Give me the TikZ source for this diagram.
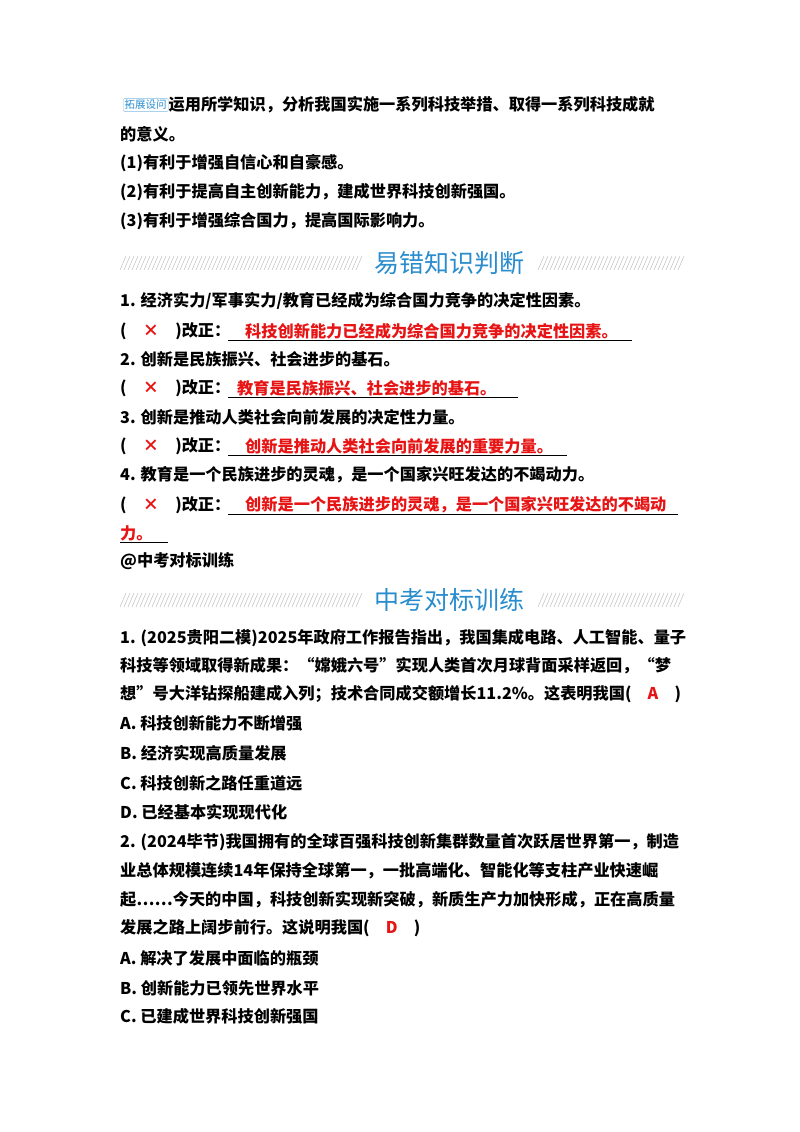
\documentclass[tikz,border=0pt]{standalone}
\usepackage{fontspec}
\setmainfont{Liberation Serif}
\newfontfamily\cjk{Noto Sans CJK SC}
\definecolor{bannerblue}{RGB}{40,140,205}
\definecolor{slashgray}{RGB}{190,190,190}
\definecolor{ansred}{RGB}{230,20,20}
\tikzset{
  line/.style={anchor=west, inner sep=0pt, font=\fontsize{16.2}{16}\selectfont\bfseries\cjk},
  redline/.style={line, text=ansred},
  title/.style={inner sep=0pt, font=\fontsize{25}{25}\selectfont\cjk, text=bannerblue},
  uline/.style={black, line width=0.7pt}
}
\newcommand{\slashes}[3]{\foreach \sx in {#1,...,#2} {\draw[slashgray, line width=0.5pt] (\sx,#3+7) -- (\sx+6,#3-7);}}
\begin{document}
\begin{tikzpicture}[x=1pt,y=-1pt]
\useasboundingbox (0,0) rectangle (800,1132);
% extension question
\node[draw=bannerblue!60, rounded corners=1pt, inner sep=1.5pt, text=bannerblue, font=\fontsize{10.5}{10}\selectfont\cjk, anchor=west] (icon) at (123,105) {拓展设问};
\node[line] (q1) at (icon.east) {运用所学知识，分析我国实施一系列科技举措、取得一系列科技成就};
\node[line] (q2) at (120,134) {的意义。};
\node[line] (a1) at (120,163) {(1)有利于增强自信心和自豪感。};
\node[line] (a2) at (120,192) {(2)有利于提高自主创新能力，建成世界科技创新强国。};
\node[line] (a3) at (120,221) {(3)有利于增强综合国力，提高国际影响力。};
% banner 1
\slashes{120,124}{356}{263}
\node[title] (b1) at (449,263) {易错知识判断};
\slashes{538,542}{678}{263}
% judgements
\node[line] (j1) at (120,301) {1. 经济实力/军事实力/教育已经成为综合国力竞争的决定性因素。};
\node[line] (c1) at (120,331) {(\quad{\color{ansred}×}\quad)改正：};
\node[redline] (r1) at (245,331) {科技创新能力已经成为综合国力竞争的决定性因素。};
\draw[uline] (228,340) -- (632,340);
\node[line] (j2) at (120,359) {2. 创新是民族振兴、社会进步的基石。};
\node[line] (c2) at (120,388) {(\quad{\color{ansred}×}\quad)改正：};
\node[redline] (r2) at (237,388) {教育是民族振兴、社会进步的基石。};
\draw[uline] (228,397) -- (518,397);
\node[line] (j3) at (120,417) {3. 创新是推动人类社会向前发展的决定性力量。};
\node[line] (c3) at (120,446) {(\quad{\color{ansred}×}\quad)改正：};
\node[redline] (r3) at (245,446) {创新是推动人类社会向前发展的重要力量。};
\draw[uline] (228,455) -- (567,455);
\node[line] (j4) at (120,475) {4. 教育是一个民族进步的灵魂，是一个国家兴旺发达的不竭动力。};
\node[line] (c4) at (120,505) {(\quad{\color{ansred}×}\quad)改正：};
\node[redline] (r4) at (245,505) {创新是一个民族进步的灵魂，是一个国家兴旺发达的不竭动};
\draw[uline] (228,514) -- (678,514);
\node[redline] (r4b) at (120,533) {力。};
\draw[uline] (120,542) -- (168,542);
\node[line] (at) at (120,561) {@中考对标训练};
% banner 2
\slashes{120,124}{356}{600}
\node[title] (b2) at (449,600) {中考对标训练};
\slashes{538,542}{678}{600}
% exercise 1
\node[line] (e1a) at (120,638) {1. (2025贵阳二模)2025年政府工作报告指出，我国集成电路、人工智能、量子};
\node[line] (e1b) at (120,666) {科技等领域取得新成果：“嫦娥六号”实现人类首次月球背面采样返回，“梦};
\node[line] (e1c) at (120,694) {想”号大洋钻探船建成入列；技术合同成交额增长11.2\%。这表明我国(\quad{\color{ansred}A}\quad)};
\node[line] (o1a) at (120,723) {A. 科技创新能力不断增强};
\node[line] (o1b) at (120,753) {B. 经济实现高质量发展};
\node[line] (o1c) at (120,783) {C. 科技创新之路任重道远};
\node[line] (o1d) at (120,812) {D. 已经基本实现现代化};
% exercise 2
\node[line] (e2a) at (120,842) {2. (2024毕节)我国拥有的全球百强科技创新集群数量首次跃居世界第一，制造};
\node[line] (e2b) at (120,871) {业总体规模连续14年保持全球第一，一批高端化、智能化等支柱产业快速崛};
\node[line] (e2c) at (120,900) {起……今天的中国，科技创新实现新突破，新质生产力加快形成，正在高质量};
\node[line] (e2d) at (120,928) {发展之路上阔步前行。这说明我国(\quad{\color{ansred}D}\quad)};
\node[line] (o2a) at (120,958) {A. 解决了发展中面临的瓶颈};
\node[line] (o2b) at (120,988) {B. 创新能力已领先世界水平};
\node[line] (o2c) at (120,1016) {C. 已建成世界科技创新强国};
\end{tikzpicture}
\end{document}
